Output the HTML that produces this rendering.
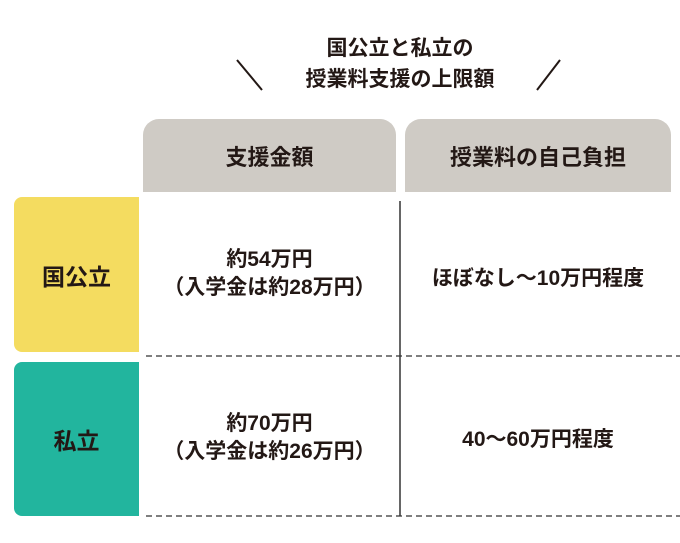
<!DOCTYPE html>
<html><head><meta charset="utf-8"><style>
body{margin:0;width:680px;height:543px;background:#fff;position:relative;overflow:hidden;font-family:"Liberation Sans","Noto Sans CJK JP",sans-serif;color:#231815;font-weight:bold}
div{position:absolute;box-sizing:border-box}
.c{display:flex;align-items:center;justify-content:center;text-align:center;white-space:nowrap}
.h{background:#cfcbc5;border-radius:16px 16px 0 0;font-size:22px}
.t{font-size:21px;line-height:28px}
</style></head><body>
<div class="c" style="left:200px;top:31px;width:400px;height:32px;font-size:21px">国公立と私立の</div>
<div class="c" style="left:200px;top:62px;width:400px;height:32px;font-size:21px">授業料支援の上限額</div>
<svg style="position:absolute;left:0;top:0" width="680" height="543">
<line x1="237" y1="60" x2="262" y2="90" stroke="#231815" stroke-width="2"/>
<line x1="560" y1="60" x2="537" y2="90" stroke="#231815" stroke-width="2"/>
<line x1="400" y1="201" x2="400" y2="516" stroke="#333" stroke-width="1.5"/>
<line x1="146" y1="356" x2="680" y2="356" stroke="#333" stroke-width="1.2" stroke-dasharray="6 4"/>
<line x1="146" y1="516" x2="680" y2="516" stroke="#333" stroke-width="1.2" stroke-dasharray="6 4"/>
</svg>
<div class="c h" style="left:143px;top:119px;width:253px;height:73px">支援金額</div>
<div class="c h" style="left:405px;top:119px;width:266px;height:73px">授業料の自己負担</div>
<div class="c" style="left:14px;top:197px;width:125px;height:155px;background:#f4dc60;border-radius:8px 0 0 8px;font-size:23px">国公立</div>
<div class="c" style="left:14px;top:362px;width:125px;height:154px;background:#22b59e;border-radius:8px 0 0 8px;font-size:23px">私立</div>
<div class="c t" style="left:143px;top:244px;width:253px;height:60px">約54万円<br>（入学金は約28万円）</div>
<div class="c t" style="left:405px;top:262px;width:266px;height:34px">ほぼなし～10万円程度</div>
<div class="c t" style="left:143px;top:408px;width:253px;height:60px">約70万円<br>（入学金は約26万円）</div>
<div class="c t" style="left:405px;top:423px;width:266px;height:34px">40～60万円程度</div>
</body></html>
